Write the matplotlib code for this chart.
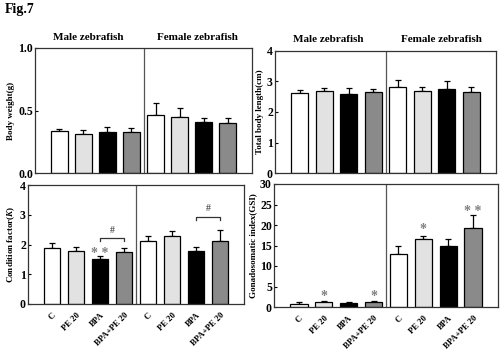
import matplotlib
matplotlib.use("Agg")
import matplotlib.pyplot as plt
import numpy as np

plt.rcParams['font.family'] = ['Liberation Serif', 'DejaVu Serif']
plt.rcParams['font.weight'] = 'bold'
plt.rcParams['mathtext.fontset'] = 'custom'
plt.rcParams['mathtext.it'] = 'Liberation Serif:italic:bold'
plt.rcParams['mathtext.rm'] = 'Liberation Serif:bold'

groups = ["C", "PE 20", "BPA", "BPA+PE 20"]
sexes = ["Male zebrafish", "Female zebrafish"]

# Body weight (g): male then female
bw_mean = [0.34, 0.31, 0.33, 0.33, 0.465, 0.448, 0.408, 0.40]
bw_err = [0.01, 0.035, 0.04, 0.03, 0.095, 0.072, 0.032, 0.04]

# Total body length (cm)
tbl_mean = [2.61, 2.70, 2.59, 2.65, 2.81, 2.69, 2.77, 2.67]
tbl_err = [0.11, 0.08, 0.19, 0.10, 0.23, 0.12, 0.25, 0.15]

# Condition factor (K)
cf_mean = [1.87, 1.78, 1.52, 1.76, 2.11, 2.27, 1.79, 2.11]
cf_err = [0.19, 0.12, 0.10, 0.12, 0.17, 0.17, 0.12, 0.39]

# Gonadosomatic index (GSI)
gsi_mean = [0.85, 1.2, 0.9, 1.2, 12.9, 16.5, 14.9, 19.2]
gsi_err = [0.25, 0.3, 0.2, 0.3, 2.0, 0.8, 1.7, 3.2]

colors = ["white", "#e2e2e2", "black", "#8a8a8a"] * 2
xpos = np.arange(8)
W, H = 500, 352

def px_axes(fig, x0, y0, x1, y1):
    return fig.add_axes([x0 / W, 1 - y1 / H, (x1 - x0) / W, (y1 - y0) / H])

fig = plt.figure(figsize=(5.0, 3.52), dpi=100)
fig.text(5 / W, 1 - 10 / H, "Fig.7", fontsize=10, fontweight='bold', va='center', ha='left')

def panel(ax, mean, err, ylim, yticks, yticklabels, ylabel, xlabels=False):
    ax.bar(xpos, mean, width=0.7, color=colors, edgecolor='black', linewidth=0.9, zorder=2)
    ax.errorbar(xpos, mean, yerr=[np.zeros(8), err], fmt='none', ecolor='black',
                elinewidth=0.9, capsize=2.2, capthick=0.9, zorder=1)
    ax.axvline(3.5, color='#555555', linewidth=0.9)
    ax.set_xlim(-1, 8)
    ax.set_ylim(*ylim)
    ax.set_yticks(yticks)
    ax.set_yticklabels(yticklabels, fontsize=8.5, fontweight='bold')
    ax.tick_params(axis='y', direction='in', length=2, width=0.8, pad=1.5)
    ax.set_ylabel(ylabel, fontsize=6.5, fontweight='bold', labelpad=2)
    for s in ax.spines.values():
        s.set_linewidth(0.9)
        s.set_color('#333333')
    if xlabels:
        ax.set_xticks(xpos)
        ax.set_xticklabels(groups * 2, rotation=45, ha='right', rotation_mode='anchor',
                           fontsize=6.2, fontweight='bold')
        ax.tick_params(axis='x', length=0, pad=5)
    else:
        ax.set_xticks([])

def sex_titles(ax, xm, xf, ypx_off):
    for xx, t in zip([xm, xf], sexes):
        ax.annotate(t, xy=(xx, 1), xycoords=('data', 'axes fraction'),
                    xytext=(0, ypx_off), textcoords='offset pixels',
                    ha='center', va='center', fontsize=8, fontweight='bold')

ax1 = px_axes(fig, 35, 48, 252, 173)
panel(ax1, bw_mean, bw_err, (0, 1.0), [0, 0.5, 1.0], ["0.0", "0.5", "1.0"], "Body weight(g)")
sex_titles(ax1, 1.2, 5.72, 11)

ax2 = px_axes(fig, 275, 51, 496, 173)
panel(ax2, tbl_mean, tbl_err, (0, 4), [0, 1, 2, 3, 4], ["0", "1", "2", "3", "4"], "Total body length(cm)")
sex_titles(ax2, 1.15, 5.76, 11)

ax3 = px_axes(fig, 28, 185, 244, 304)
panel(ax3, cf_mean, cf_err, (0, 4), [0, 1, 2, 3, 4], ["0", "1", "2", "3", "4"],
      r"Condition factor($\mathit{K}$)", xlabels=True)
star_col = '#808080'
ax3.text(2, 1.70, "* *", ha='center', va='center', fontsize=10, color=star_col)
for (xa, xb, yb, yh) in [(2, 3, 2.21, 2.47), (6, 7, 2.91, 3.22)]:
    ax3.plot([xa, xa, xb, xb], [yb - 0.08, yb, yb, yb - 0.08], color='#333333', linewidth=0.9)
    ax3.text((xa + xb) / 2, yh, "#", ha='center', va='center', fontsize=7, color='#555555')

ax4 = px_axes(fig, 274, 184, 498, 307)
panel(ax4, gsi_mean, gsi_err, (0, 30), [0, 5, 10, 15, 20, 25, 30],
      ["0", "5", "10", "15", "20", "25", "30"], "Gonadosomatic index(GSI)", xlabels=True)
for xx, yy, s in [(1, 2.6, "*"), (3, 2.6, "*"), (5, 19.0, "*"), (7, 23.4, "* *")]:
    ax4.text(xx, yy, s, ha='center', va='center', fontsize=10, color=star_col)

fig.savefig("out.png", dpi=100)
